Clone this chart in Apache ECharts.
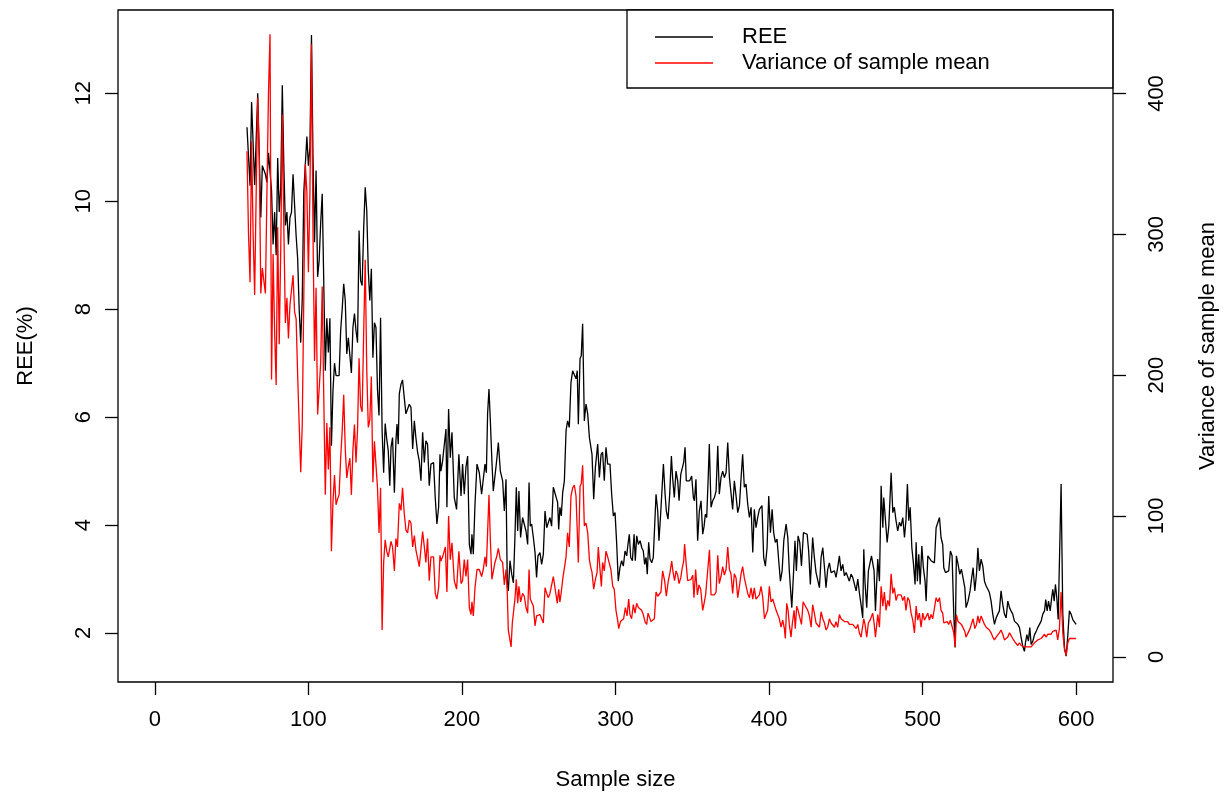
<!DOCTYPE html>
<html>
<head>
<meta charset="utf-8">
<script src="https://cdn.jsdelivr.net/npm/echarts@6/dist/echarts.min.js"></script>
<style>
  html, body { margin: 0; padding: 0; background: #fff; }
  #main { width: 1230px; height: 795px; }
</style>
</head>
<body>
<div id="main"></div>
<script>
// tick labels
var xTicks = [0, 100, 200, 300, 400, 500, 600];
var reeTicks = [2, 4, 6, 8, 10, 12];
var varTicks = [0, 100, 200, 300, 400];

// REE(%) by sample size
var reeSizeA = [60,62,63,65,67,69,70,72,73,74,
  76,77,78,79,80,81,82,83,84,85,
  86,87,88,89,90,92,93,94,95,96,
  97,99,100,101,102,103,104,105,106,107,
  108,109,110,111,112,113,114,115,116,117,
  118,119,120,121,122,123,124,125,126,127,
  128,129,130,131,132,133,134,135,136,137,
  138,139,140,141,142,143,144,145,146,147,
  148,149,150,151,152,153];
var reeValueA = [11.37,10.29,11.84,10.3,12.0,9.7,10.66,10.5,10.35,10.9,
  10.2,9.2,9.8,9.0,10.8,9.8,10.26,12.15,10.66,9.55,
  9.8,9.2,9.7,9.8,10.5,9.36,8.94,8.0,7.38,8.2,
  10.17,11.2,10.66,11.0,13.08,10.8,9.24,10.57,8.6,8.9,
  9.6,10.14,8.5,6.86,7.83,7.2,7.83,5.47,6.49,7.0,
  6.77,6.75,6.77,7.6,8.0,8.47,8.16,7.17,7.47,7.45,
  6.82,7.66,7.92,7.6,7.38,9.46,8.53,8.44,9.5,10.26,
  9.83,8.72,8.16,8.75,7.1,7.75,7.66,6.5,6.03,7.84,
  5.75,4.97,5.88,5.6,5.38,4.73];

var reeSizeB = [153.8,154.8,156,157,157.7,158.5,159.2,160.3,161.3,162.4,
  163.5,164.6,165.7,166.8,167.9,169,170,171.1,172.2,173.3,
  174.4,175.5,176.5,177.6,178.7,179.8,181.5,182.6,183.7,184.8,
  185.7,186.3,187.4,188.5,189.6,190.2,191.3,192.4,193.5,195,
  196.5,198,199.4,200.4,201.5,202.6,203.7,204.8,205.9,206.5,
  207.4,208.5,209.8,211.3,212.8,213.9,215,215.9,216.7,217.6,
  218.5,219.5,220.4,221.5,222.6,223.7,225,226.5,227.6,228.7,
  229.5,230.2,231.3,232.4,233.5,234.5,235.4,236.3,237.1,238.2,
  239.5,240.6,241.7,242.8,243.7,244.5,245.4,246.5,247.6,248.6,
  249.5,250.8,251.9,253,254.1,255.2,256.2,257.3,258.4,259.5,
  260.4];
var reeValueB = [5.44,5.62,4.6,5.56,5.87,5.5,6.43,6.61,6.69,6.37,
  6.06,6.03,6.24,6.18,5.41,5.93,5.62,5.35,5.19,4.82,
  5.72,5.16,5.56,5.5,4.73,5.13,5.16,4.51,4.02,4.33,
  5.31,5.0,5.19,5.19,5.78,4.33,6.15,5.25,5.72,4.51,
  4.29,5.31,4.54,5.13,4.57,5.07,5.28,3.64,3.46,3.83,
  3.46,4.39,5.13,4.97,4.57,4.54,5.13,4.97,6.06,6.52,
  5.93,5.19,4.63,4.6,5.19,5.53,5.0,4.82,4.26,4.85,
  2.96,2.78,3.34,3.09,2.93,3.77,4.7,3.89,4.63,3.77,
  4.14,4.11,3.89,3.64,4.79,3.98,4.02,3.77,3.49,3.03,
  3.43,3.49,3.27,3.46,4.26,3.95,3.92,4.14,3.98,4.7,
  4.73];

var reeSizeC = [262.3,263,263.8,264.7,265.6,266.7,267.8,268.8,269.9,271,
  272.1,273.2,274.3,275.1,275.8,276.9,277.7,278.6,279.7,280.8,
  281.9,283,284.7,285.8,286.9,288.4,289.5,290.6,291.6,292.7,
  293.8,294.9,296.4,297.5,298.6,299.7,300.8,301.8,302.9,304,
  305.1,306.2,307.3,308.1,309,309.9,311,312.1,312.9,313.8,
  314.9,316,317.1,318.1,319,319.9,320.7,321.6,322.5,323.6,
  324.6,325.5,326.4,327.5,328.3,329.4,330.3,331.2,332.3,333.1,
  334.2,335.3,336.4,337.2,338.3,339.4,340.5,341.4,342.5,343.3,
  344.4,345.3,346.1,347.2,348.3,349.6,350.7,351.4,352.4,353.5,
  354.6,355.7,356.8,357.7,358.5,359.4,360.3,361.1,362.2,363.3,
  364.4];
var reeValueC = [4.42,3.92,4.33,4.17,4.6,4.82,5.75,5.93,5.81,6.64,
  6.86,6.83,6.71,6.86,5.87,7.08,7.14,7.73,5.93,6.24,
  6.06,5.62,5.31,4.48,5.07,5.5,4.88,5.31,5.35,4.82,
  5.44,5.13,5.13,4.57,4.17,4.23,3.64,2.96,3.21,3.34,
  3.24,3.52,3.43,3.64,3.83,3.4,3.34,3.83,3.34,3.8,
  3.64,3.71,3.58,3.52,3.27,3.4,3.09,3.68,3.37,3.3,
  3.4,3.43,4.57,4.26,3.71,4.2,4.2,5.13,4.57,4.26,
  4.11,4.57,5.28,4.88,4.51,5.0,4.82,4.45,4.94,4.94,
  5.16,5.44,4.82,4.79,4.82,4.91,4.51,4.45,4.85,3.71,
  4.26,4.45,3.83,3.98,4.2,4.14,4.82,5.5,4.33,4.45,
  4.51];

var reeSizeD = [365.5,366.6,367.6,368.7,369.8,370.9,372,373.1,374.2,375.2,
  376.3,377.4,378.5,379.6,380.7,381.8,382.8,383.9,385,386.1,
  387.2,388.3,389.4,390.4,391.5,392.6,393.7,395.4,396.5,397.6,
  398.7,399.8,400.9,402,403,404.1,405.2,406.3,407.4,408.5,
  409.6,411.1,412.2,413.2,414.8,415.9,416.9,417.8,418.9,420,
  421.1,422.4,423.7,424.8,425.8,426.9,428.4,429.5,430.6,431.7,
  432.8,433.9,435,436.1,437.1,438.2,439.3,440.4,441.5,442.6,
  443.6,444.7,445.8,446.9,448,449.1,450.2,451.2,452.3,453.4,
  454.5,455.6,456.7,457.8,458.8,459.9,461,461.7,462.5,463.6,
  464.7,465.8,466.7,467.5,468.4,469.3];
var reeValueD = [4.63,5.47,4.57,4.88,5.0,4.88,4.97,5.53,4.88,4.6,
  4.29,4.82,4.54,4.23,4.36,4.88,5.31,4.7,4.76,4.39,
  4.14,4.33,3.49,4.29,3.95,4.14,4.29,4.36,3.4,3.24,
  3.58,4.54,3.86,4.29,3.86,3.68,3.74,3.34,2.96,3.15,
  3.71,4.02,3.77,3.15,2.47,3.09,3.71,3.15,3.8,3.68,
  3.24,3.86,3.86,3.83,3.52,2.9,3.77,3.4,3.12,3.09,
  2.84,3.4,3.58,3.21,2.84,3.18,3.3,3.12,3.09,3.15,
  3.03,3.21,3.43,3.15,3.27,3.06,3.12,3.09,2.96,3.09,
  3.03,3.06,2.78,3.0,2.75,2.53,2.28,3.55,2.93,2.47,
  3.15,3.12,3.43,3.3,3.15,2.41];

var reeSizeE = [470.8,471.9,473,474.1,474.7,475.6,476.9,478,478.8,479.5,
  480.6,481.6,482.7,483.8,484.9,486,487.1,488.2,489.2,490.1,
  491,491.9,493,494,495.1,495.8,496.6,497.5,498.4,499.5,
  500.5,501.6,502.3,503.4,504.4,505.5,506.6,507.7,508.8,509.9,
  511,512,513.1,513.8,514.9,516,517,518.1,519.2,520.3,
  521.2,522,523.1,524.2,525.3,526.4,527.5,528.3,529.6,530.9,
  532,532.9,534,535.1,536,537,538.1,539.2,540.3,541.4,
  542.5,543.5,544.6,545.7,546.8,547.9,549,550,551.1,552.2,
  553.3,554.4,555.5,556.6,557.6,558.7,559.8,560.9,562,563.1,
  564.2,565.2,566.3,567,567.9,568.9,569.8,570.7,571.8,572.9,
  574,575,576.1,577.2,578.3,579.4,580.2,581.1,582,583.1,
  584.1,584.8,585.7,586.5,587.4,588.3,589.1,590.2,591.3,592.4,
  593.5,594.6,595.6,596.7,597.8,598.9,600];
var reeValueE = [3.37,2.96,4.73,3.95,4.51,4.54,3.68,3.98,3.95,4.97,
  4.23,4.33,4.08,3.89,4.05,3.98,4.14,3.77,4.11,4.76,
  4.08,4.33,3.58,3.3,2.9,3.68,2.96,3.46,2.9,3.61,
  3.21,2.96,2.59,3.43,3.46,3.34,3.37,3.3,3.95,3.92,
  4.14,3.77,3.64,3.21,3.12,3.15,3.15,3.52,3.43,2.35,
  1.73,3.43,3.27,3.09,3.18,3.18,2.84,2.47,2.59,2.78,
  3.03,3.21,2.78,3.09,3.58,3.15,3.37,3.24,2.96,2.87,
  2.81,2.75,2.59,2.35,2.16,2.28,2.35,2.41,2.78,2.53,
  2.35,2.28,2.59,2.47,2.41,2.35,2.22,2.19,2.16,2.1,
  1.91,1.76,1.66,1.82,1.97,1.85,2.1,1.79,1.85,1.97,
  2.03,2.1,2.07,2.22,2.35,2.41,2.62,2.41,2.59,2.41,
  2.66,2.81,2.59,2.9,2.66,2.25,2.25,4.76,2.35,1.73,
  1.57,1.97,2.41,2.35,2.25,2.28,2.16];

// variance of sample mean by sample size
var varSizeA = [60,61,62,63,64,65,66,67,68,69,
  70,71,72,73,74,75,76,77,78,79,
  80,81,82,83,84,85,86,87,88,89,
  90,91,92,93,94,95,96,97,98,99,
  100,101,102,103,104,105,106,107,108,109,
  110,111,112,113,114,115,116,117,118,119,
  120,121,122,123,124,125,126,127,128,129,
  130,131,132,133,134,135,136,137,138,139,
  140,141,142,143,144,145,146,147,148,149,
  150,151,152];
var varValueA = [359,300,266,366,300,257,330,397,354,258,
  276,276,258,330,400,442,197,286,231,193,
  305,222,290,385,305,237,255,226,250,250,
  271,245,240,200,165,131,165,255,350,330,
  273,330,435,300,210,262,172,190,209,263,
  185,115,166,133,163,75,110,129,108,112,
  115,141,160,186,148,127,135,141,115,147,
  165,138,161,212,178,174,230,282,204,163,
  168,199,124,153,153,120,88,120,19,67,
  83,75,71];

var varSizeB = [153.8,154.8,156,157,158,159.2,160.3,161.3,162.4,163.5,
  164.6,165.7,166.8,167.9,169,170,171.1,172.2,173.3,174.4,
  175.5,176.5,177.6,178.7,179.8,181.5,182.6,183.7,184.8,185.7,
  186.3,187.4,188.5,189.2,190.2,191.3,192.4,193.5,195,196.5,
  198,199.4,200.4,201.5,202.6,203.7,204.8,205.9,206.5,207.4,
  208.5,209.8,211.3,212.8,213.9,215,215.9,216.7,217.6,218.5,
  219.5,220.4,221.5,222.6,223.7,225,226.5,227.6,228.7,229.5,
  230.2,231.3,232,232.8,233.7,234.5,235.4,236.3,237.1,238.2,
  239.5,240.6,241.7,242.8,243.7,244.5,245.4,246.5,247.6,248.6,
  249.5,250.8,251.9,253,254.1,255.2,256.2,257.3,258.4,259.5,
  260.4];
var varValueB = [82,78,61,84,78,109,104,120,102,90,
  88,97,95,78,86,76,75,64,63,89,
  78,67,84,54,71,71,45,41,49,72,
  68,71,72,78,46,100,69,81,54,48,
  75,52,54,69,57,69,35,30,39,29,
  49,62,62,57,62,71,64,88,115,83,
  55,55,67,71,77,69,67,51,62,46,
  19,19,7,24,24,41,55,38,50,39,
  45,43,35,31,62,41,42,36,22,29,
  28,30,31,24,49,45,42,45,46,57,
  58];

var varSizeC = [262.1,263,263.8,264.7,265.6,266.7,267.8,268.8,269.9,271,
  272.1,273.2,274.3,275.1,275.8,276.9,277.7,278.6,279.7,280.8,
  281.9,283,283.8,284.7,285.8,286.9,288,288.8,289.9,290.8,
  291.6,292.7,293.8,294.9,296,297,298.2,299.2,300.3,301.4,
  302.1,303.2,304.2,305.3,306.4,307.5,308.6,309.4,310.5,311.6,
  312.7,313.8,314.9,316,317,318.1,319.2,320.3,321.2,322.3,
  323.1,324.2,325.3,326.4,327.5,328.6,329.6,330.7,332,333.1,
  334.4,335.5,336.6,337.5,338.5,339.4,340.5,341.4,342.5,343.3,
  344.4,345,346.1,347,348.1,349.2,350.3,351.1,352.2,353.3,
  354.4,355.5,356.8,357.7,358.7,359.8,361.2,362.2,363.3,364.4];
var varValueC = [38,48,39,46,55,55,71,88,78,114,
  120,122,114,114,67,121,123,136,93,95,
  88,69,64,60,48,55,60,78,62,50,
  67,61,75,71,71,62,50,48,33,26,
  20,25,26,27,35,29,41,30,27,37,
  31,38,35,35,33,30,25,23,31,30,
  25,26,27,46,43,44,46,61,54,43,
  54,60,68,60,54,61,58,52,56,62,
  68,80,65,54,55,55,58,42,62,44,
  51,48,33,38,44,43,76,44,43,44];

var varSizeD = [365.5,366.6,367.6,368.7,369.8,370.9,372,373.1,374.2,375.2,
  376.3,377.4,378.5,379.6,380.7,381.8,382.8,383.9,385,386.1,
  387.2,388.3,389.4,390.4,391.5,392.6,393.7,394.8,395.9,397,
  398,399.1,400.2,401.3,402.4,403.5,404.6,405.6,406.7,407.8,
  408.9,410,410.6,411.5,412.4,413.2,414.3,415.2,416.3,417.1,
  418,418.9,420,421.1,422.2,423.2,424.1,425.2,426.3,427.4,
  428.4,429.5,430.6,431.7,432.8,433.9,435,436.1,437.1,438.2,
  439.3,440.4,441.5,442.6,443.6,444.7,445.8,446.9,448,449.1,
  450.2,451.2,452.3,453.4,454.5,455.6,456.7,457.8,458.8,459.9,
  461,461.7,462.5,463.6,464.7,465.8,466.7,467.5,468.4,469.3];
var varValueD = [46,72,52,57,64,58,62,78,62,59,
  45,59,56,42,50,59,64,56,55,45,
  42,49,41,49,41,42,44,50,42,27,
  30,33,50,39,41,37,33,33,27,21,
  26,20,13,38,33,23,14,24,33,20,
  36,33,33,23,39,37,36,33,29,21,
  37,31,24,24,21,32,27,24,19,21,
  27,24,23,21,25,21,30,27,26,25,
  24,25,23,24,23,24,20,23,17,14,
  13,27,23,14,24,26,27,31,24,14];

var varSizeE = [470.8,471.9,473,474.1,475.1,476.2,477.3,478.4,479.5,480.6,
  481.6,482.7,483.8,484.9,486,487.1,488.2,489.2,490.3,491.4,
  492.5,493.6,494.7,495.8,496.8,497.9,499,500.1,501.2,502.3,
  503.4,504.4,505.5,506.6,507.7,508.8,509.9,511,512,513.1,
  513.8,514.9,516,517,518.1,519.2,520.3,521.2,522,523.1,
  524.2,525.3,526.4,527.5,528.3,529.6,530.9,532,532.9,534,
  535.1,536,537,538.1,539.2,540.3,541.4,542.5,543.5,544.6,
  545.7,546.8,547.9,549,550,551.1,552.2,553.3,554.4,555.5,
  556.6,557.6,558.7,559.8,560.9,562,563.1,564.2,565.2,566.3,
  567.4,568.5,569.6,570.7,571.8,572.9,574,575,576.1,577.2,
  578.3,579.4,580.5,581.5,582.6,583.7,584.8,585.9,587,588,
  589.1,590.2,591.3,592.4,593.5,594.6,595.6,596.7,597.8,598.9,
  600];
var varValueE = [30,21,50,36,46,33,40,36,59,45,
  49,40,44,43,44,40,43,33,42,40,
  31,26,17,36,26,31,21,31,26,26,
  31,26,30,27,26,42,39,42,33,31,
  24,24,25,23,26,25,17,7,30,25,
  24,23,23,18,14,17,20,24,27,20,
  23,29,24,29,26,23,21,20,19,17,
  14,12,14,14,17,19,16,12,11,14,
  17,16,13,11,10,8,10,8,7,7,
  8,7,8,7,8,10,11,12,12,13,
  14,16,14,16,17,16,18,17,19,12,
  20,46,17,5,1,10,13,14,13,12,
  13];

function pairs(sizes, values) {
  return sizes.map(function (s, i) { return [s, values[i]]; });
}

var reeData = [].concat(
  pairs(reeSizeA, reeValueA), pairs(reeSizeB, reeValueB), pairs(reeSizeC, reeValueC),
  pairs(reeSizeD, reeValueD), pairs(reeSizeE, reeValueE));
var varData = [].concat(
  pairs(varSizeA, varValueA), pairs(varSizeB, varValueB), pairs(varSizeC, varValueC),
  pairs(varSizeD, varValueD), pairs(varSizeE, varValueE));

var font = "'Liberation Sans', Arial, Helvetica, sans-serif";

var myChart = echarts.init(document.getElementById('main'));
var option = {
    backgroundColor: '#fff',
    animation: false,
    grid: {
        left: 118,
        right: 117,
        top: 10,
        bottom: 113,
        outerBoundsMode: 'none',
        show: true,
        borderColor: '#000',
        borderWidth: 1.3,
        backgroundColor: 'transparent'
    },
    legend: {
        orient: 'vertical',
        left: 627,
        top: 10,
        padding: [16, 123, 14, 28],
        itemGap: 4,
        itemWidth: 58,
        itemHeight: 1.4,
        icon: 'rect',
        borderColor: '#000',
        borderWidth: 1.3,
        backgroundColor: '#fff',
        textStyle: { fontSize: 22, fontFamily: font, color: '#000', padding: [0, 0, 0, 24] },
        data: ['REE', 'Variance of sample mean']
    },
    xAxis: {
        type: 'value',
        min: -24,
        max: 624,
        name: 'Sample size',
        nameLocation: 'middle',
        nameGap: 87,
        nameTextStyle: { fontSize: 22, fontFamily: font, color: '#000' },
        axisLine: { show: false, onZero: false },
        splitLine: { show: false },
        axisTick: { show: true, inside: false, length: 13, customValues: xTicks,
                    lineStyle: { color: '#000', width: 1.3 } },
        axisLabel: { customValues: xTicks, margin: 27, fontSize: 22, fontFamily: font, color: '#000' }
    },
    yAxis: [
        {
            type: 'value',
            position: 'left',
            min: 1.092,
            max: 13.544,
            name: 'REE(%)',
            nameLocation: 'middle',
            nameGap: 81,
            nameRotate: 90,
            nameTextStyle: { fontSize: 22, fontFamily: font, color: '#000' },
            axisLine: { show: false, onZero: false },
            splitLine: { show: false },
            axisTick: { show: true, inside: false, length: 13, customValues: reeTicks,
                        lineStyle: { color: '#000', width: 1.3 } },
            axisLabel: { customValues: reeTicks, rotate: 90, margin: 23, fontSize: 22, fontFamily: font, color: '#000' }
        },
        {
            type: 'value',
            position: 'right',
            min: -17.9,
            max: 459.3,
            name: 'Variance of sample mean',
            nameLocation: 'middle',
            nameGap: 84,
            nameRotate: 90,
            nameTextStyle: { fontSize: 22, fontFamily: font, color: '#000' },
            axisLine: { show: false, onZero: false },
            splitLine: { show: false },
            axisTick: { show: true, inside: false, length: 13, customValues: varTicks,
                        lineStyle: { color: '#000', width: 1.3 } },
            axisLabel: { customValues: varTicks, rotate: 90, margin: 33, fontSize: 22, fontFamily: font, color: '#000' }
        }
    ],
    series: [
        {
            name: 'REE',
            type: 'line',
            yAxisIndex: 0,
            data: reeData,
            showSymbol: false,
            color: '#000',
            lineStyle: { color: '#000', width: 1.3 },
            z: 2
        },
        {
            name: 'Variance of sample mean',
            type: 'line',
            yAxisIndex: 1,
            data: varData,
            showSymbol: false,
            color: '#ff0000',
            lineStyle: { color: '#ff0000', width: 1.3 },
            z: 3
        }
    ]
};
myChart.setOption(option);
</script>
</body>
</html>
